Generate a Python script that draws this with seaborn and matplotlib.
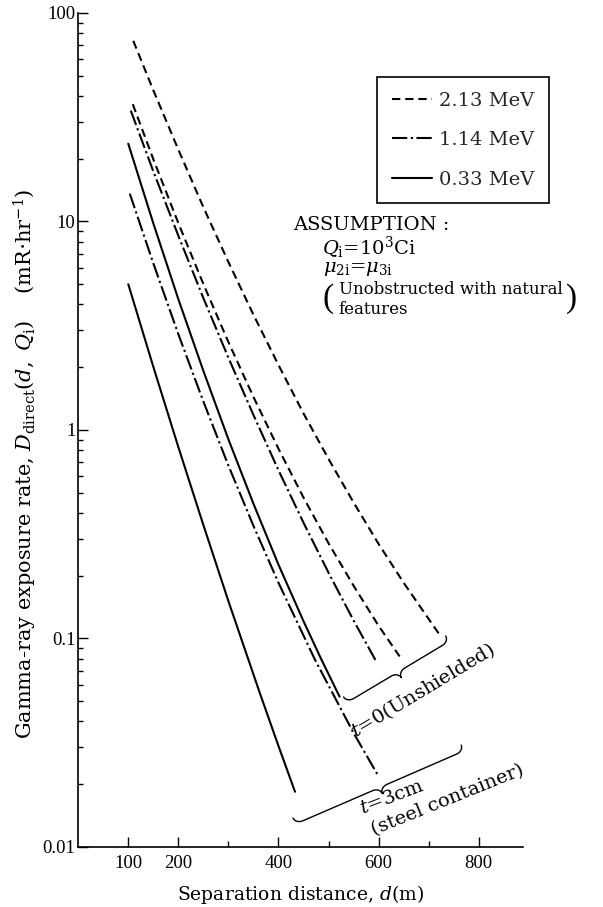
import numpy as np
import pandas as pd
import matplotlib
matplotlib.use("Agg")
import matplotlib.pyplot as plt
from matplotlib.lines import Line2D
from matplotlib.transforms import IdentityTransform
import seaborn as sns

# Separation distance d (m) and direct gamma-ray exposure rate (mR/hr) along each curve
d_213_t0 = [110, 150, 200, 250, 300, 350, 400, 450, 500, 550, 600, 650, 700, 722]
r_213_t0 = [73.5, 42.6, 22.1, 11.7, 6.39, 3.57, 2.05, 1.20, 0.726, 0.449, 0.284, 0.185, 0.124, 0.104]

d_213_t3 = [109, 150, 200, 250, 300, 350, 400, 450, 500, 550, 600, 642]
r_213_t3 = [36.5, 19.9, 9.82, 5.01, 2.64, 1.44, 0.813, 0.474, 0.286, 0.179, 0.115, 0.082]

d_114_t0 = [105, 150, 200, 250, 300, 350, 400, 450, 503, 550, 596]
r_114_t0 = [34.0, 17.4, 8.54, 4.29, 2.22, 1.18, 0.641, 0.359, 0.20, 0.122, 0.077]

d_114_t3 = [103, 150, 200, 250, 300, 350, 400, 473, 550, 599]
r_114_t3 = [13.6, 6.30, 2.88, 1.37, 0.675, 0.347, 0.185, 0.079, 0.0352, 0.022]

d_033_t0 = [100, 150, 200, 250, 300, 350, 400, 450, 486, 522]
r_033_t0 = [23.6, 9.80, 4.24, 1.92, 0.902, 0.443, 0.226, 0.121, 0.079, 0.0526]

d_033_t3 = [100, 150, 200, 250, 300, 363, 400, 433]
r_033_t3 = [5.0, 2.01, 0.828, 0.35, 0.151, 0.0545, 0.0305, 0.0184]

energies = ["2.13 MeV", "1.14 MeV", "0.33 MeV"]
x_major = [100, 200, 400, 600, 800]
x_minor = [300, 500, 700]

curves = [
    ("2.13 MeV", "t0", d_213_t0, r_213_t0),
    ("2.13 MeV", "t3", d_213_t3, r_213_t3),
    ("1.14 MeV", "t0", d_114_t0, r_114_t0),
    ("1.14 MeV", "t3", d_114_t3, r_114_t3),
    ("0.33 MeV", "t0", d_033_t0, r_033_t0),
    ("0.33 MeV", "t3", d_033_t3, r_033_t3),
]
df = pd.concat(
    [pd.DataFrame({"d": d, "rate": r, "energy": e, "case": f"{e}-{t}"})
     for e, t, d, r in curves],
    ignore_index=True,
)

sns.set_theme(style="ticks")
plt.rcParams["font.family"] = ["DejaVu Serif"]
plt.rcParams["mathtext.fontset"] = "dejavuserif"
plt.rcParams["lines.scale_dashes"] = False

dash_styles = {
    "2.13 MeV": (6, 3.5),
    "1.14 MeV": (11, 2.5, 1.6, 2.5),
    "0.33 MeV": "",
}

fig = plt.figure(figsize=(6.03, 9.07), dpi=100)
ax = fig.add_axes([0.1297, 0.0662, 0.7373, 0.9195])

sns.lineplot(data=df, x="d", y="rate", style="energy", units="case",
             estimator=None, sort=False, color="black", dashes=dash_styles,
             linewidth=1.5, legend=False, ax=ax)

ax.set_yscale("log")
ax.set_ylim(0.01, 100)
ax.set_xlim(0, 888)
ax.set_xticks(x_major)
ax.set_xticks(x_minor, minor=True)
ax.set_xticklabels([str(v) for v in x_major])
ax.set_yticks([0.01, 0.1, 1, 10, 100])
ax.set_yticklabels(["0.01", "0.1", "1", "10", "100"])

for s in ["top", "right"]:
    ax.spines[s].set_visible(False)
for s in ["left", "bottom"]:
    ax.spines[s].set_linewidth(1.2)
    ax.spines[s].set_color("black")

ax.tick_params(which="both", direction="in", color="black", width=1.0)
ax.tick_params(axis="y", which="major", length=7, pad=2)
ax.tick_params(axis="y", which="minor", length=3.5)
ax.tick_params(axis="x", which="major", length=7, pad=6)
ax.tick_params(axis="x", which="minor", length=4.5)
for lab in ax.get_xticklabels() + ax.get_yticklabels():
    lab.set_fontfamily("Liberation Serif")
    lab.set_fontsize(13.5)
    lab.set_color("black")

ax.set_xlabel("Separation distance, $d$(m)", fontsize=13.5, labelpad=8, color="black")
ax.set_ylabel(r"Gamma-ray exposure rate, $D_{\rm direct}(d,\ Q_{\rm i})$    (mR$\cdot$hr$^{-1}$)",
              fontsize=15, color="black")
ax.yaxis.set_label_coords(-0.088, 0.46)

handles = [Line2D([], [], color="black", linewidth=1.5,
                  linestyle="-" if dash_styles[e] == "" else (0, dash_styles[e]))
           for e in energies]
leg = ax.legend(handles, energies, loc="upper left", bbox_to_anchor=(0.672, 0.923),
                borderaxespad=0, frameon=True, fancybox=False, framealpha=1,
                fontsize=14, handlelength=2.1, handletextpad=0.35,
                labelspacing=1.1, borderpad=0.75)
leg.get_frame().set_edgecolor("black")
leg.get_frame().set_linewidth(1.2)

# Assumption block
txt = dict(transform=ax.transAxes, color="black", fontsize=14)
ax.text(0.483, 0.746, "ASSUMPTION :", ha="left", va="center", **txt)
ax.text(0.548, 0.718, r"$Q_{\rm i}$=10$^3$Ci", ha="left", va="center", **txt)
ax.text(0.550, 0.693, r"$\mu_{\rm 2i}$=$\mu_{\rm 3i}$", ha="left", va="center", **txt)
paren = dict(transform=ax.transAxes, color="black", fontsize=24,
             family="Liberation Serif", va="center")
ax.text(0.550, 0.657, "(", ha="left", **paren)
ax.text(0.586, 0.668, "Unobstructed with natural", ha="left", va="center",
        transform=ax.transAxes, color="black", fontsize=12)
ax.text(0.586, 0.644, "features", ha="left", va="center",
        transform=ax.transAxes, color="black", fontsize=12)
ax.text(1.098, 0.657, ")", ha="left", **paren)


def curly_brace(ax, p0, p1, depth, n=60, **kw):
    """Draw a curly brace between two data points; depth in pixels."""
    P0 = ax.transData.transform(p0)
    P1 = ax.transData.transform(p1)
    v = P1 - P0
    L = np.hypot(*v)
    u = v / L
    nv = np.array([u[1], -u[0]])
    r = min(8.0, L / 6)
    h = depth
    th = np.linspace(0, np.pi / 2, n)
    s1 = r * (1 - np.cos(th)); n1 = (h / 2) * np.sin(th)
    s2 = np.array([r, L / 2 - r]); n2 = np.array([h / 2, h / 2])
    s3 = L / 2 - r + r * np.sin(th); n3 = h / 2 + (h / 2) * (1 - np.cos(th))
    s_half = np.concatenate([s1, s2, s3])
    n_half = np.concatenate([n1, n2, n3])
    s_all = np.concatenate([s_half, L - s_half[::-1]])
    n_all = np.concatenate([n_half, n_half[::-1]])
    pts = P0[None, :] + s_all[:, None] * u[None, :] + n_all[:, None] * nv[None, :]
    ax.add_line(Line2D(pts[:, 0], pts[:, 1], transform=IdentityTransform(),
                       clip_on=False, **kw))


fig.canvas.draw()
curly_brace(ax, (530, 0.0524), (734, 0.1028), 13, color="black", linewidth=1.0)
curly_brace(ax, (429, 0.01377), (765, 0.0308), 13, color="black", linewidth=1.0)

ax.text(0.775, 0.188, "$t$=0(Unshielded)", rotation=31, rotation_mode="anchor",
        ha="center", va="center", **txt)
ax.text(0.705, 0.059, "$t$=3cm", rotation=21, rotation_mode="anchor",
        ha="center", va="center", **txt)
ax.text(0.831, 0.056, "(steel container)", rotation=22, rotation_mode="anchor",
        ha="center", va="center", **txt)

fig.savefig("out.png", dpi=100)
